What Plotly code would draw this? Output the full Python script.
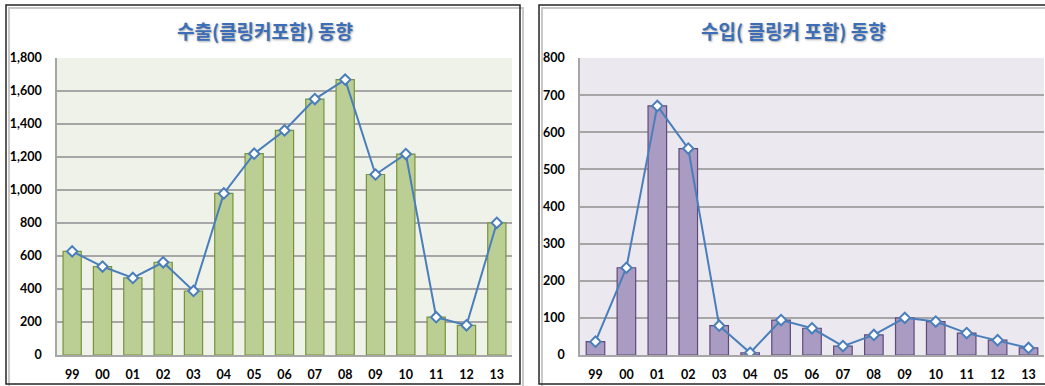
import plotly.graph_objects as go

years = ["99", "00", "01", "02", "03", "04", "05", "06", "07", "08", "09", "10", "11", "12", "13"]
export_vals = [628, 536, 467, 562, 388, 979, 1220, 1361, 1551, 1669, 1094, 1218, 229, 180, 801]
import_vals = [36, 235, 671, 556, 79, 6, 94, 72, 24, 54, 100, 90, 59, 40, 19]
export_ticks = [0, 200, 400, 600, 800, 1000, 1200, 1400, 1600, 1800]
import_ticks = [0, 100, 200, 300, 400, 500, 600, 700, 800]
title_left = "수출(클링커포함) 동향"
title_right = "수입( 클링커 포함) 동향"

W, H = 1045, 386
def px(x):
    return x / W
def py(y):
    return 1 - y / H

LINE = "#4A7EBB"
fig = go.Figure()

fig.add_trace(go.Bar(x=years, y=export_vals, marker=dict(color="#BBCF95", line=dict(color="#77933C", width=1.2)),
                     xaxis="x", yaxis="y", showlegend=False))
fig.add_trace(go.Scatter(x=years, y=export_vals, mode="lines+markers", line=dict(color=LINE, width=2),
                         marker=dict(symbol="diamond", size=8, color="white", line=dict(color=LINE, width=2)),
                         xaxis="x", yaxis="y", showlegend=False))
fig.add_trace(go.Bar(x=years, y=import_vals, marker=dict(color="#A99BC1", line=dict(color="#604A7B", width=1.2)),
                     xaxis="x2", yaxis="y2", showlegend=False))
fig.add_trace(go.Scatter(x=years, y=import_vals, mode="lines+markers", line=dict(color=LINE, width=2),
                         marker=dict(symbol="diamond", size=8, color="white", line=dict(color=LINE, width=2)),
                         xaxis="x2", yaxis="y2", showlegend=False))

tickfont = dict(family="Lato", size=12.5, color="#000000", weight="bold")
ydom = [py(355), py(58)]
xrange = [-0.5, len(years) - 0.5]
common_x = dict(type="category", range=xrange, showgrid=False, showline=True, linecolor="#A6A6A6", linewidth=1.5,
                ticks="outside", ticklen=7, tickcolor="rgba(0,0,0,0)", tickfont=tickfont,
                fixedrange=True, automargin=False)
common_y = dict(showgrid=True, gridcolor="#A6A6A6", gridwidth=1.5, showline=True, linecolor="#A6A6A6",
                linewidth=1.5, zeroline=False, ticks="outside", ticklen=11, tickcolor="rgba(0,0,0,0)",
                tickfont=tickfont, fixedrange=True, automargin=False)

fig.update_layout(
    width=W, height=H, margin=dict(l=0, r=0, t=0, b=0, pad=0),
    paper_bgcolor="white", plot_bgcolor="rgba(0,0,0,0)",
    bargap=0.4,
    xaxis=dict(domain=[px(57), px(512)], anchor="y", **common_x),
    yaxis=dict(domain=ydom, anchor="x", range=[0, 1800], tickvals=export_ticks,
               tickformat=",d", **common_y),
    xaxis2=dict(domain=[px(580), px(1044)], anchor="y2", **common_x),
    yaxis2=dict(domain=ydom, anchor="x2", range=[0, 800], tickvals=import_ticks, **common_y),
)

shapes = [
    dict(type="rect", xref="x domain", yref="y domain", x0=0, x1=1, y0=0, y1=1,
         fillcolor="#EEF2E8", line=dict(width=0), layer="below"),
    dict(type="rect", xref="x2 domain", yref="y2 domain", x0=0, x1=1, y0=0, y1=1,
         fillcolor="#EBE9EF", line=dict(width=0), layer="below"),
    dict(type="rect", xref="paper", yref="paper", x0=px(9), x1=px(523), y0=py(387), y1=py(8),
         fillcolor="rgba(0,0,0,0)", line=dict(color="#C8C8C8", width=2), layer="below"),
    dict(type="rect", xref="paper", yref="paper", x0=px(542), x1=px(1048), y0=py(387), y1=py(8),
         fillcolor="rgba(0,0,0,0)", line=dict(color="#C8C8C8", width=2), layer="below"),
    dict(type="rect", xref="paper", yref="paper", x0=px(6), x1=px(520), y0=py(384), y1=py(5),
         fillcolor="rgba(0,0,0,0)", line=dict(color="#262626", width=1.5), layer="below"),
    dict(type="rect", xref="paper", yref="paper", x0=px(539), x1=px(1047), y0=py(384), y1=py(5),
         fillcolor="rgba(0,0,0,0)", line=dict(color="#262626", width=1.5), layer="below"),
]
fig.update_layout(shapes=shapes)

titlefont = dict(family="Noto Sans CJK KR", size=19, color="#3C6EB8", weight="bold",
                 shadow="1px 1px 2px rgba(80,80,80,0.5)")
fig.add_annotation(text=title_left, x=px(265), y=py(31), xref="paper", yref="paper",
                   showarrow=False, font=titlefont, xanchor="center", yanchor="middle")
fig.add_annotation(text=title_right, x=px(793), y=py(31), xref="paper", yref="paper",
                   showarrow=False, font=titlefont, xanchor="center", yanchor="middle")

fig.write_html("out.html", config={"displayModeBar": False},
               post_script="document.body.style.margin='0';document.body.style.overflow='hidden';")
